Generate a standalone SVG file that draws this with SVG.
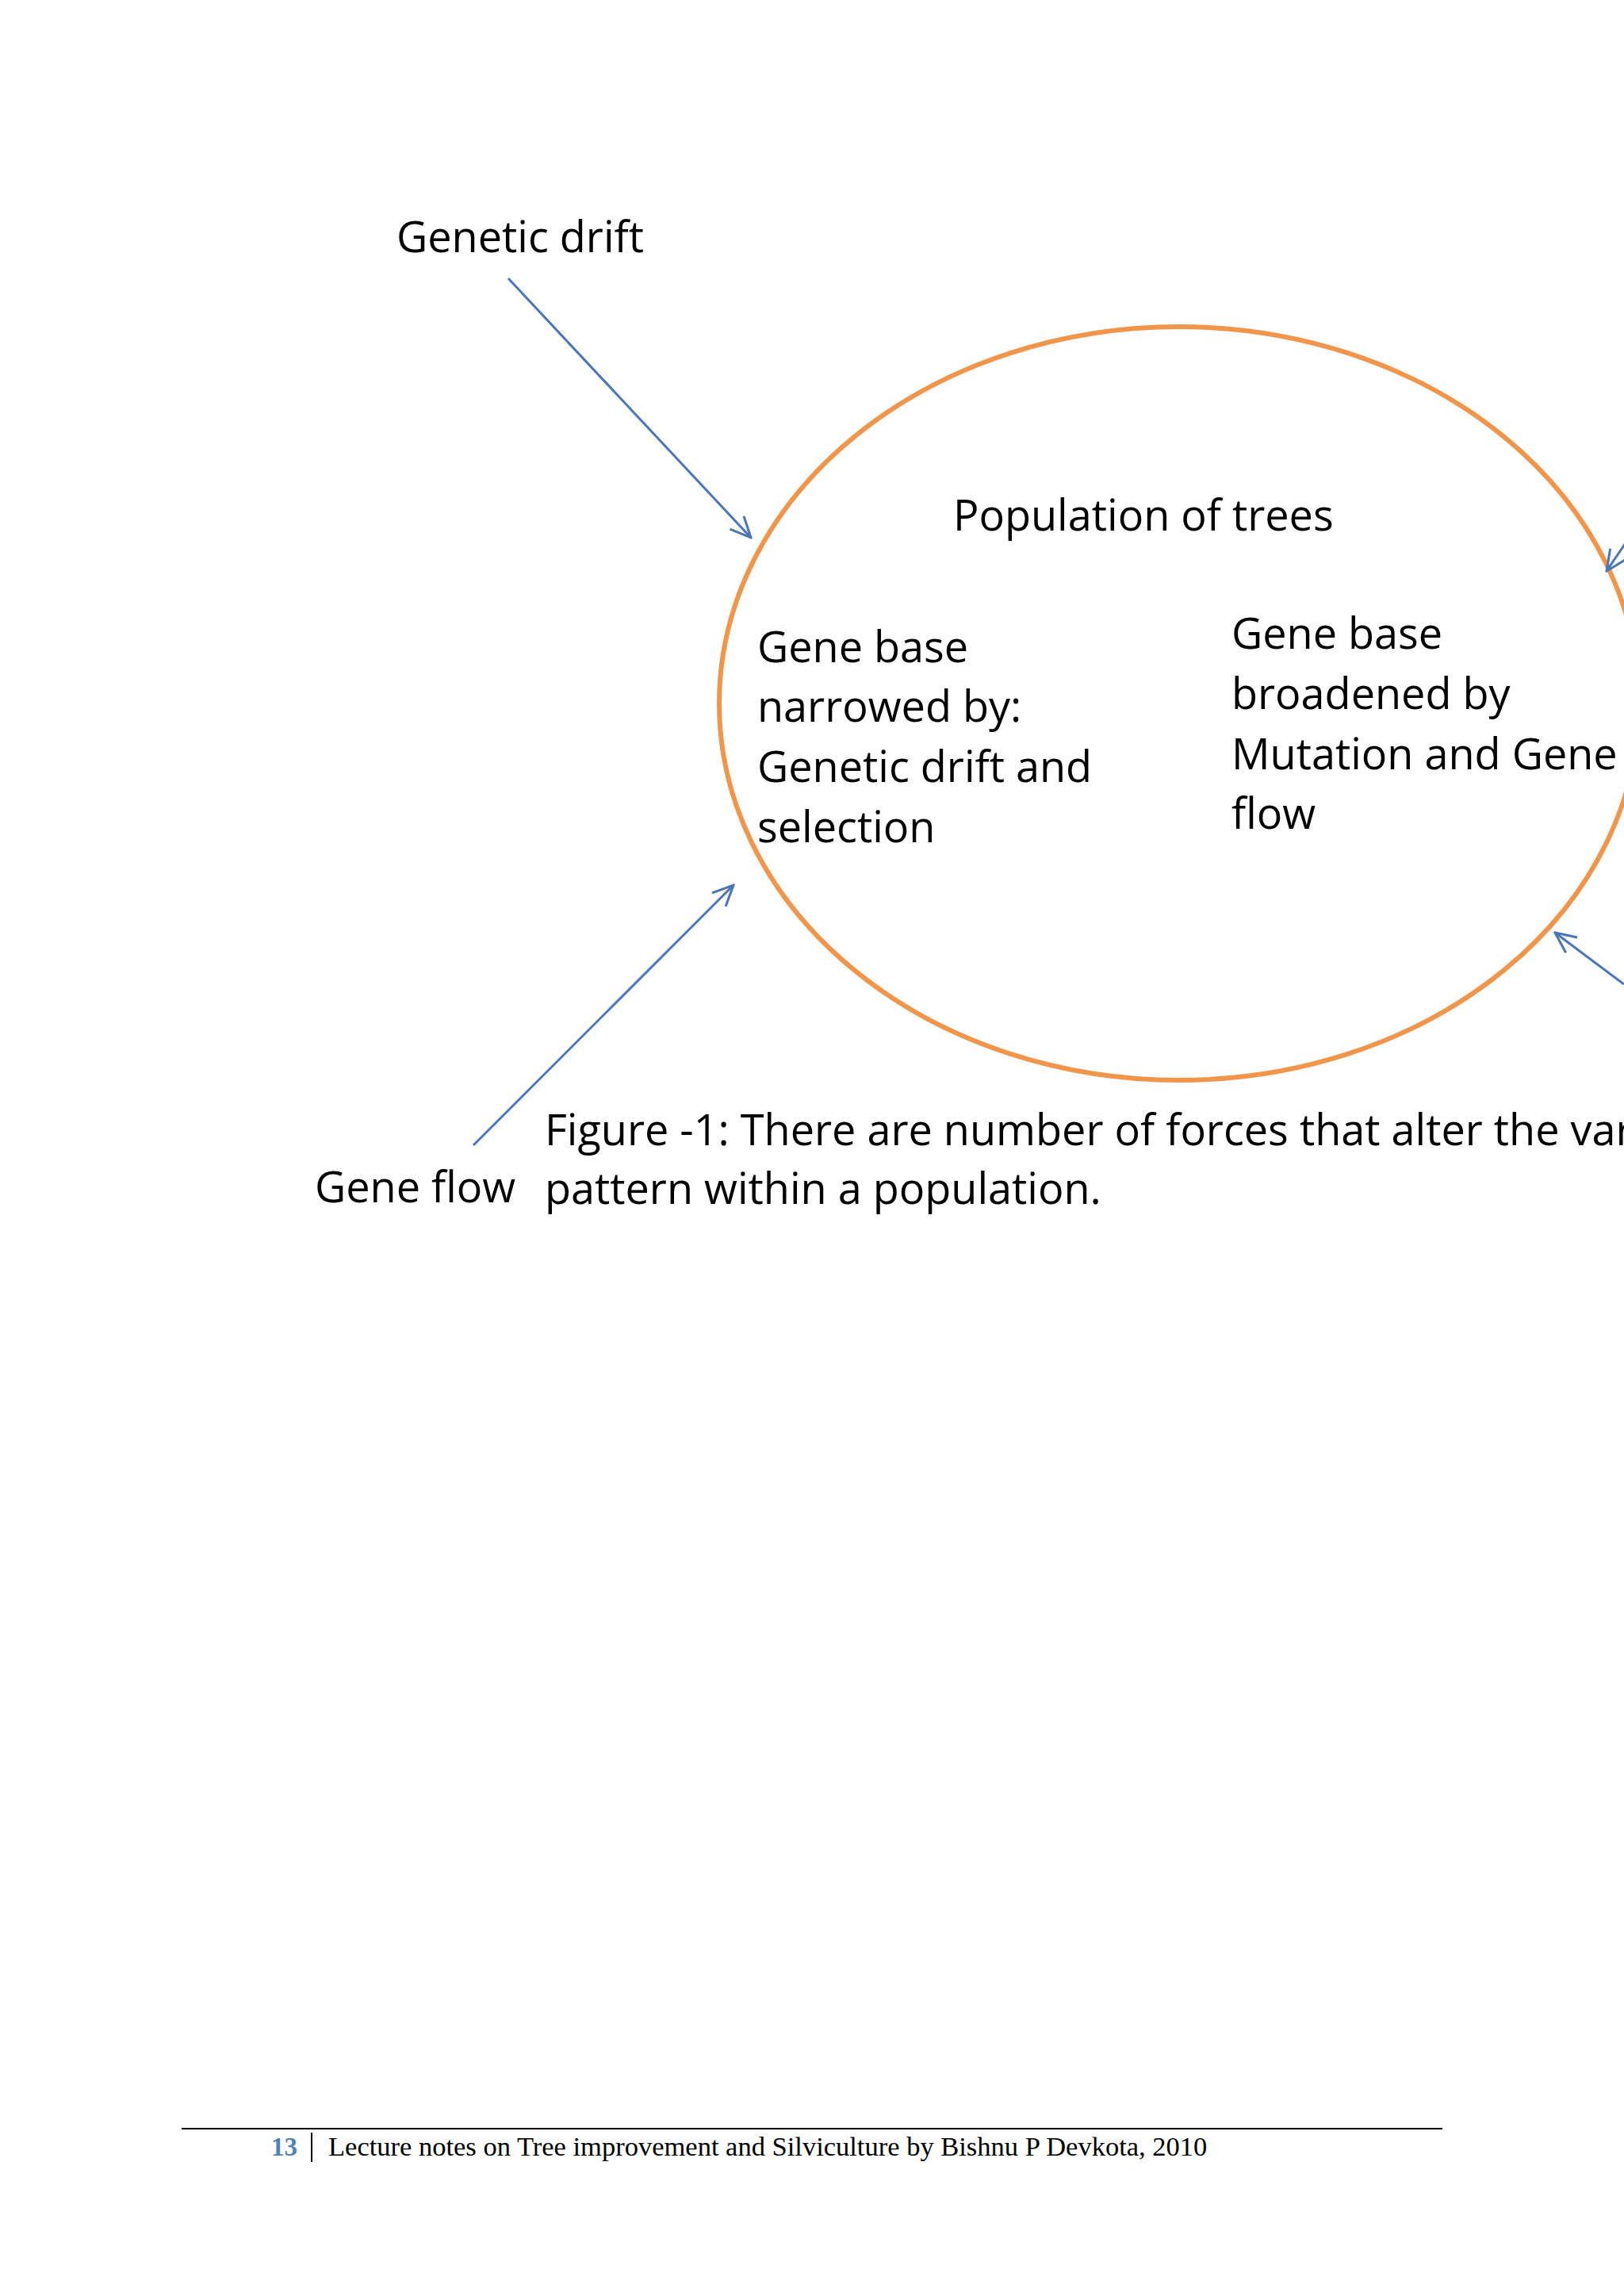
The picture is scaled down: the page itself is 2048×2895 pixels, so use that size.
<svg xmlns="http://www.w3.org/2000/svg" width="2048" height="2895" viewBox="0 0 2048 2895">
<style>
.t{font-family:"Open Sans","Noto Sans","Liberation Sans",sans-serif;font-size:54px;fill:#000}
.c{stroke:#4a76b8;stroke-width:3;fill:none}
</style>
<defs>
<marker id="b" markerWidth="30" markerHeight="30" refX="28" refY="15" orient="auto" markerUnits="userSpaceOnUse"><path d="M2,3 L28,15 L2,27" fill="none" stroke="#4a76b8" stroke-width="3"/></marker></defs>
<rect width="2048" height="2895" fill="#fefefe"/>
<g id="population"><ellipse cx="1487" cy="887" rx="580" ry="475" fill="none" stroke="#f0954a" stroke-width="6"/>
<text class="t" x="1202" y="669">Population of trees</text>
<text class="t" x="955" y="835">Gene base</text><text class="t" x="955" y="910">narrowed by:</text><text class="t" x="955" y="986">Genetic drift and</text><text class="t" x="955" y="1062">selection</text>
<text class="t" x="1553" y="818">Gene base</text><text class="t" x="1553" y="894">broadened by</text><text class="t" x="1553" y="970">Mutation and Gene</text><text class="t" x="1553" y="1045">flow</text></g>
<g id="drift"><text class="t" x="500" y="318">Genetic drift</text></g>
<g id="geneflow"><text class="t" x="397" y="1516">Gene flow</text></g>
<g id="caption"><text class="t" x="687" y="1444">Figure -1: There are number of forces that alter the variation</text><text class="t" x="687" y="1518">pattern within a population.</text></g>
<g id="connectors">
<line class="c" x1="641" y1="351" x2="947" y2="678" marker-end="url(#b)"/>
<line class="c" x1="597" y1="1444" x2="925" y2="1116" marker-end="url(#b)"/>
<line class="c" x1="2060" y1="670" x2="2026" y2="720" marker-end="url(#b)"/>
<line class="c" x1="2048" y1="1241" x2="1961" y2="1176" marker-end="url(#b)"/>
</g>
<g id="footer"><line x1="229" y1="2684" x2="1819" y2="2684" stroke="#000" stroke-width="2"/>
<line x1="393" y1="2689" x2="393" y2="2726" stroke="#000" stroke-width="2"/>
<text x="342" y="2718" font-family="Liberation Serif,serif" font-size="33" font-weight="bold" fill="#4f81bd">13</text>
<text x="414" y="2718" font-family="Liberation Serif,serif" font-size="34.5" fill="#000">Lecture notes on Tree improvement and Silviculture by Bishnu P Devkota, 2010</text></g>
</svg>
